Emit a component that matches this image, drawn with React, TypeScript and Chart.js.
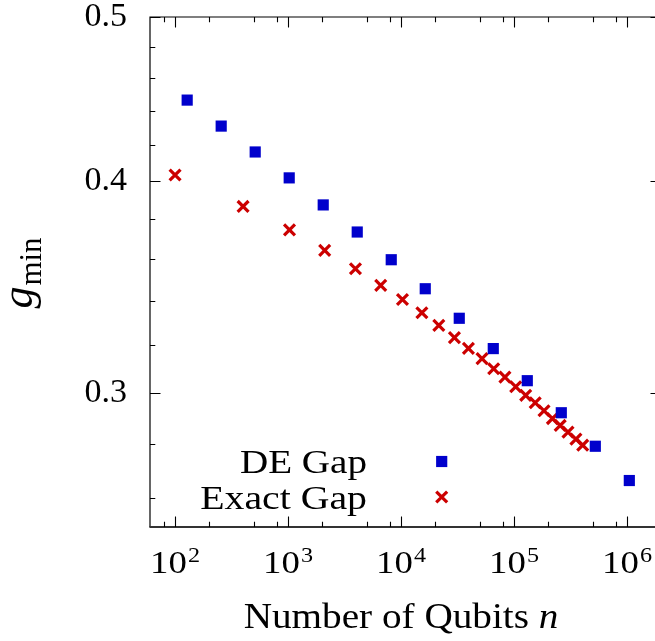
import React, { useEffect, useRef } from 'react';
import { Chart, registerables } from 'chart.js';

Chart.register(...registerables);

// ---------- data ----------
const seriesNames = ['DE Gap', 'Exact Gap'];

const deGapN = [128, 256, 512, 1024, 2048, 4096, 8192, 16384, 32768, 65536, 131072, 262144, 524288, 1048576];
const deGapValues = [0.4466, 0.4311, 0.4162, 0.4018, 0.3873, 0.3733, 0.3595, 0.3456, 0.332, 0.3186, 0.305, 0.292, 0.279, 0.2663];

const exactGapN = [100, 400, 1030, 2110, 3950, 6610, 10300, 15300, 21600, 29700, 39500, 52100, 66100, 83100, 103500, 126900, 154000, 184300, 218700, 256300, 300500, 353100, 405500];
const exactGapValues = [0.4034, 0.3865, 0.3744, 0.3641, 0.3551, 0.3472, 0.3406, 0.3345, 0.3288, 0.3234, 0.3187, 0.3143, 0.31, 0.3065, 0.3025, 0.299, 0.296, 0.2928, 0.2897, 0.287, 0.2844, 0.2817, 0.2794];

const xTickValues = [1e2, 1e3, 1e4, 1e5, 1e6];
const xTickBase = '10';
const xTickExponents = ['2', '3', '4', '5', '6'];
const xMinorTickValues = [80, 200, 500, 800, 2000, 5000, 8000, 20000, 50000, 80000, 200000, 500000, 800000];

const yTickValues = [0.3, 0.4, 0.5];
const yTickLabels = ['0.3', '0.4', '0.5'];
const yMinorTickValues = [0.26, 0.28, 0.32, 0.34, 0.36, 0.38, 0.42, 0.44, 0.46, 0.48];

const xTitleText = 'Number of Qubits ';
const xTitleVar = 'n';
const yTitleVar = 'g';
const yTitleSub = 'min';

// ---------- style ----------
const W = 680;
const H = 641;
const FONT = '"Liberation Serif", "Times New Roman", serif';
const BLUE = '#0000cc';
const RED = '#cc0000';
const SX = 1.15;

const gnuplotPlugin = {
  id: 'gnuplotLook',
  beforeDatasetsDraw(chart: any) {
    const { ctx, chartArea, scales } = chart;
    const { left, right, top, bottom } = chartArea;
    const xs = scales.x;
    const ys = scales.y;
    ctx.save();
    // frame
    ctx.strokeStyle = '#000';
    ctx.lineWidth = 1.2;
    ctx.beginPath();
    ctx.moveTo(left, bottom);
    ctx.lineTo(left, top);
    ctx.lineTo(right, top);
    ctx.lineTo(right, bottom);
    ctx.stroke();
    ctx.strokeStyle = '#333';
    ctx.lineWidth = 2;
    ctx.beginPath();
    ctx.moveTo(left - 0.6, bottom);
    ctx.lineTo(right, bottom);
    ctx.stroke();
    // ticks
    ctx.strokeStyle = '#000';
    ctx.lineWidth = 1.1;
    const major = 10.5;
    const minor = 5.3;
    const drawX = (v: number, len: number) => {
      const px = Math.round(xs.getPixelForValue(v)) + 0.5;
      ctx.beginPath();
      ctx.moveTo(px, bottom);
      ctx.lineTo(px, bottom - len);
      ctx.moveTo(px, top);
      ctx.lineTo(px, top + len);
      ctx.stroke();
    };
    const drawY = (v: number, len: number) => {
      const py = Math.round(ys.getPixelForValue(v)) + 0.5;
      ctx.beginPath();
      ctx.moveTo(left, py);
      ctx.lineTo(left + len, py);
      ctx.moveTo(right, py);
      ctx.lineTo(right - len, py);
      ctx.stroke();
    };
    xTickValues.forEach((v) => drawX(v, major));
    xMinorTickValues.forEach((v) => drawX(v, minor));
    yTickValues.forEach((v) => drawY(v, major));
    yMinorTickValues.forEach((v) => drawY(v, minor));
    ctx.restore();
  },
  afterDraw(chart: any) {
    const { ctx, chartArea, scales } = chart;
    const xs = scales.x;
    ctx.save();
    ctx.fillStyle = '#000';
    ctx.textBaseline = 'alphabetic';
    ctx.textAlign = 'left';
    // x tick labels with superscripts
    xTickValues.forEach((v, i) => {
      const px = xs.getPixelForValue(v);
      ctx.font = `32px ${FONT}`;
      const wb = ctx.measureText(xTickBase).width;
      ctx.font = `21px ${FONT}`;
      const we = ctx.measureText(xTickExponents[i]).width;
      const total = (wb + 1 + we) * SX;
      ctx.save();
      ctx.translate(px - total / 2, 0);
      ctx.scale(SX, 1);
      ctx.font = `32px ${FONT}`;
      ctx.fillText(xTickBase, 0, chartArea.bottom + 46);
      ctx.font = `21px ${FONT}`;
      ctx.fillText(xTickExponents[i], wb + 1, chartArea.bottom + 34.5);
      ctx.restore();
    });
    // x title
    ctx.save();
    ctx.translate(401, chartArea.bottom + 101);
    ctx.scale(1.12, 1);
    ctx.font = `35px ${FONT}`;
    const w1 = ctx.measureText(xTitleText).width;
    ctx.font = `italic 35px ${FONT}`;
    const w2 = ctx.measureText(xTitleVar).width;
    const start = -(w1 + w2) / 2;
    ctx.font = `35px ${FONT}`;
    ctx.fillText(xTitleText, start, 0);
    ctx.font = `italic 35px ${FONT}`;
    ctx.fillText(xTitleVar, start + w1, 0);
    ctx.restore();
    // y title
    ctx.save();
    ctx.translate(32, (chartArea.top + chartArea.bottom) / 2 + 1);
    ctx.rotate(-Math.PI / 2);
    ctx.font = `italic 44px ${FONT}`;
    const wg = ctx.measureText(yTitleVar).width;
    ctx.font = `31px ${FONT}`;
    const wm = ctx.measureText(yTitleSub).width;
    const ys0 = -(wg + 1 + wm) / 2;
    ctx.font = `italic 44px ${FONT}`;
    ctx.fillText(yTitleVar, ys0, 0);
    ctx.font = `31px ${FONT}`;
    ctx.fillText(yTitleSub, ys0 + wg + 1, 9);
    ctx.restore();
    // legend
    const legendRight = 367;
    const markerX = 441.7;
    const rows = [461.5, 497];
    ctx.font = `34px ${FONT}`;
    ctx.textAlign = 'right';
    seriesNames.forEach((name, i) => {
      ctx.save();
      ctx.translate(legendRight, rows[i] + 11.5);
      ctx.scale(i === 1 ? 1.17 : SX, 1);
      ctx.fillText(name, 0, 0);
      ctx.restore();
    });
    const ds0 = chart.data.datasets[0];
    const ds1 = chart.data.datasets[1];
    const half0 = ds0.pointRadius * Math.SQRT1_2;
    ctx.fillStyle = ds0.backgroundColor;
    ctx.fillRect(markerX - half0, rows[0] - half0, 2 * half0, 2 * half0);
    const off = ds1.pointRadius * Math.SQRT1_2;
    ctx.strokeStyle = ds1.borderColor;
    ctx.lineWidth = ds1.borderWidth;
    ctx.beginPath();
    ctx.moveTo(markerX - off, rows[1] - off);
    ctx.lineTo(markerX + off, rows[1] + off);
    ctx.moveTo(markerX + off, rows[1] - off);
    ctx.lineTo(markerX - off, rows[1] + off);
    ctx.stroke();
    ctx.restore();
  },
};

export default function App() {
  const ref = useRef<HTMLCanvasElement | null>(null);

  useEffect(() => {
    if (!ref.current) return;
    const chart = new Chart(ref.current, {
      type: 'scatter',
      data: {
        datasets: [
          {
            label: seriesNames[0],
            data: deGapN.map((x, i) => ({ x, y: deGapValues[i] })),
            pointStyle: 'rect',
            pointRadius: 7.9,
            pointHoverRadius: 7.9,
            backgroundColor: BLUE,
            borderColor: BLUE,
            borderWidth: 0,
            showLine: false,
            clip: false,
          } as any,
          {
            label: seriesNames[1],
            data: exactGapN.map((x, i) => ({ x, y: exactGapValues[i] })),
            pointStyle: 'crossRot',
            pointRadius: 7.7,
            pointHoverRadius: 7.7,
            backgroundColor: RED,
            borderColor: RED,
            borderWidth: 3.2,
            showLine: false,
            clip: false,
          } as any,
        ],
      },
      options: {
        animation: false,
        responsive: false,
        maintainAspectRatio: false,
        events: [],
        layout: { padding: { top: 17, left: 0, right: W - 661, bottom: 0 } },
        plugins: {
          legend: { display: false },
          tooltip: { enabled: false },
        },
        scales: {
          x: {
            type: 'logarithmic',
            min: 60,
            max: 2e6,
            grid: { display: false, drawTicks: false },
            border: { display: false },
            ticks: { display: false },
            afterBuildTicks: (s: any) => {
              s.ticks = xTickValues.map((v) => ({ value: v }));
            },
            afterFit: (s: any) => {
              s.height = H - 527;
              s.paddingLeft = 0;
              s.paddingRight = 0;
              s.paddingTop = 0;
              s.paddingBottom = 0;
            },
          },
          y: {
            type: 'logarithmic',
            min: 0.25,
            max: 0.5,
            grid: { display: false, drawTicks: false },
            border: { display: false },
            ticks: {
              color: '#000',
              padding: 23,
              font: { family: FONT, size: 34, lineHeight: 1 },
              callback: (v: any) => {
                const idx = yTickValues.findIndex((t) => Math.abs(t - Number(v)) < 1e-9);
                return idx >= 0 ? yTickLabels[idx] : '';
              },
            },
            afterBuildTicks: (s: any) => {
              s.ticks = yTickValues.map((v) => ({ value: v }));
            },
            afterFit: (s: any) => {
              s.width = 150;
              s.paddingLeft = 0;
              s.paddingRight = 0;
              s.paddingTop = 0;
              s.paddingBottom = 0;
            },
          },
        },
      } as any,
      plugins: [gnuplotPlugin],
    });
    return () => chart.destroy();
  }, []);

  return (
    <div
      style={{
        position: 'fixed',
        left: 0,
        top: 0,
        width: 655,
        height: H,
        overflow: 'hidden',
        background: '#fff',
      }}
    >
      <canvas ref={ref} width={W} height={H} style={{ width: W, height: H, display: 'block' }} />
    </div>
  );
}
